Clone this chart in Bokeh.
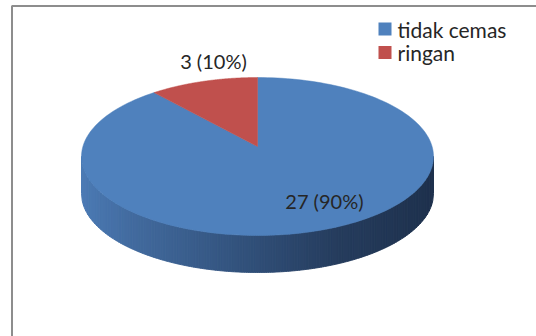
import numpy as np
from bokeh.plotting import figure
from bokeh.models import Range1d, ColumnDataSource
from bokeh.core.properties import value
from bokeh.embed import file_html
from bokeh.resources import INLINE

# ---- data ----
categories = ["tidak cemas", "ringan"]
counts = [27, 3]
colors = ["#4f81bd", "#c0504d"]

# ---- layout (pixels) ----
W, H = 536, 336
cx, cy, rx, ry, depth = 257, 156, 176, 79, 37
apex_dy = -10
label_factors = [(1.23, 0.72), (0.81, 1.14)]
FONT = "Lato"
FS = "20px"
FS_LEG = "21px"
TXT = "#262626"

p = figure(width=W, height=H, x_range=Range1d(0, W), y_range=Range1d(H, 0),
           output_backend="svg", toolbar_location=None, min_border=0)
p.axis.visible = False
p.grid.visible = False
p.outline_line_color = None
p.background_fill_color = "white"
p.border_fill_color = "white"

# ---- side of the disc (gradient) ----
stops_t = [0.0, 0.15, 0.5, 0.72, 1.0]
stops_c = [(0x4b, 0x7a, 0xb4), (0x42, 0x6a, 0x9e), (0x30, 0x4e, 0x77), (0x26, 0x3d, 0x5e), (0x1e, 0x31, 0x4d)]

def grad(t):
    r = int(np.interp(t, stops_t, [c[0] for c in stops_c]))
    g = int(np.interp(t, stops_t, [c[1] for c in stops_c]))
    b = int(np.interp(t, stops_t, [c[2] for c in stops_c]))
    return "#%02x%02x%02x" % (r, g, b)

N = 160
edges = np.linspace(cx - rx, cx + rx, N + 1)
sxs, sys, scs = [], [], []
for i in range(N):
    xa = np.linspace(edges[i], edges[i + 1], 4)
    yt = cy + ry * np.sqrt(np.clip(1 - ((xa - cx) / rx) ** 2, 0, 1))
    sxs.append(list(xa) + list(xa[::-1]))
    sys.append(list(yt) + list((yt + depth)[::-1]))
    scs.append(grad((edges[i] - (cx - rx)) / (2 * rx)))
p.patches(xs=sxs, ys=sys, fill_color=scs, line_color=scs, line_width=1)

# ---- top face ----
total = float(sum(counts))
ax, ay = cx, cy + apex_dy
a0 = 90.0
txs, tys, mids = [], [], []
for v in counts:
    a1 = a0 - 360.0 * v / total
    arc = np.radians(np.linspace(a0, a1, 200))
    txs.append([ax] + list(cx + rx * np.cos(arc)))
    tys.append([ay] + list(cy - ry * np.sin(arc)))
    mids.append(np.radians((a0 + a1) / 2))
    a0 = a1
p.patches(xs=txs, ys=tys, fill_color=colors, line_color=colors, line_width=0.5)

# ---- data labels ----
lx, ly, lt = [], [], []
for v, m, (fx, fy) in zip(counts, mids, label_factors):
    lx.append(ax + fx * rx * np.cos(m))
    ly.append(ay - fy * ry * np.sin(m))
    lt.append("%d (%d%%)" % (v, round(100 * v / total)))
p.text(x=lx, y=ly, text=lt, text_align="center", text_baseline="middle",
       text_font=value(FONT), text_font_size=FS, text_color=TXT)

# ---- legend ----
lg_x, lg_y, lg_step, sq = 378, 28.5, 23.5, 13
ys_leg = [lg_y + i * lg_step for i in range(len(categories))]
p.rect(x=[lg_x + sq / 2] * len(categories), y=ys_leg, width=sq, height=sq,
       fill_color=colors, line_color=None)
p.text(x=[lg_x + sq + 6] * len(categories), y=ys_leg, text=categories,
       text_align="left", text_baseline="middle",
       text_font=value(FONT), text_font_size=FS_LEG, text_color=TXT)

# ---- chart border ----
p.line(x=[11.5, 11.5, W + 2], y=[H + 2, 5.5, 5.5], line_color="#8d8d8d", line_width=2)

open("out.html", "w").write(file_html(p, INLINE))
